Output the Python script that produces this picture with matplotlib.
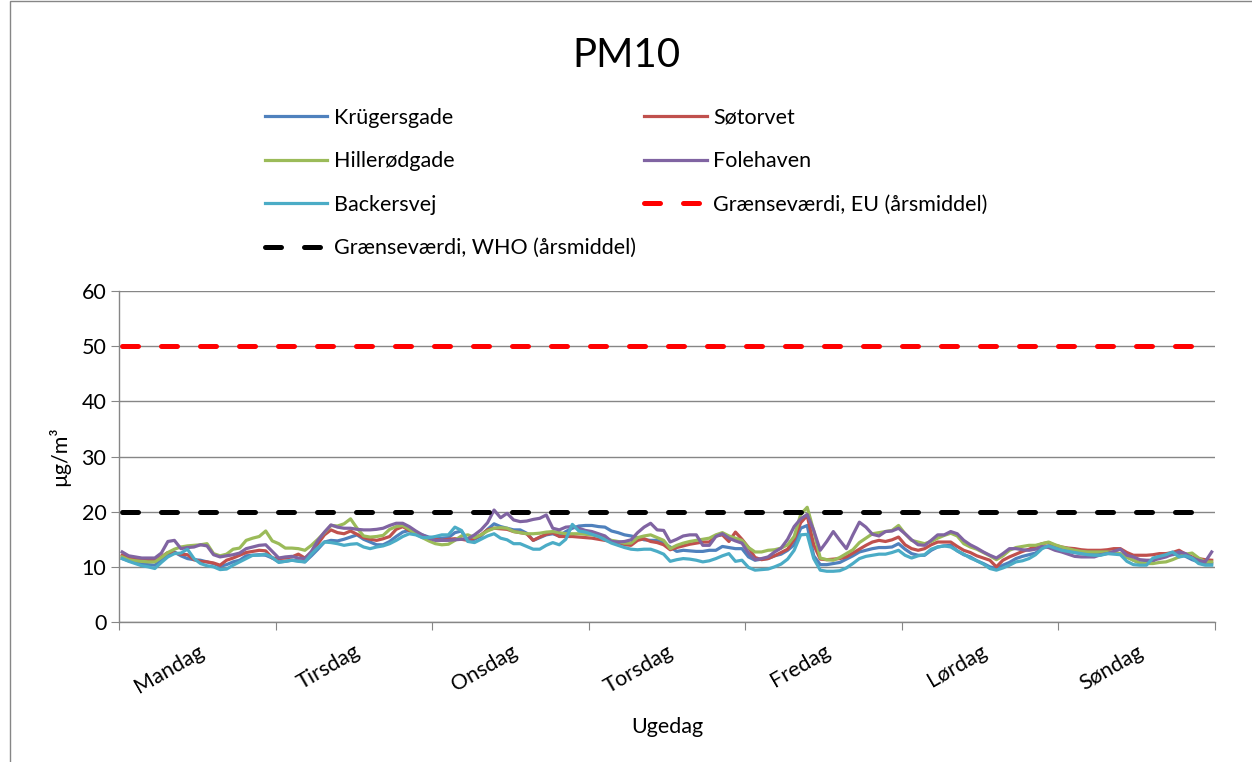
import numpy as np
import matplotlib
matplotlib.use('Agg')
import matplotlib.pyplot as plt
from matplotlib.patches import Rectangle

plt.rcParams['font.family'] = ['Lato', 'DejaVu Sans']

# Hourly mean PM10 per weekday (7 x 24 hours)
days = ['Mandag', 'Tirsdag', 'Onsdag', 'Torsdag', 'Fredag', 'Lørdag', 'Søndag']

kruegersgade = [
    11.5, 11.1, 10.8, 10.5, 10.4, 10.3, 11.2, 12.3, 12.7, 12.0, 11.5, 11.3, 11.2, 10.9, 10.6, 10.1, 10.4, 10.9, 11.2, 12.0, 12.1, 12.2, 12.1, 11.6,
    10.9, 11.0, 11.2, 11.1, 10.9, 12.0, 13.2, 14.5, 14.8, 14.7, 15.0, 15.4, 15.8, 15.0, 14.5, 14.0, 14.0, 14.6, 15.5, 16.3, 16.6, 16.2, 15.8, 15.4,
    15.2, 15.2, 15.3, 16.2, 16.5, 14.6, 15.0, 15.6, 16.8, 17.8, 17.3, 17.0, 16.7, 16.7, 16.1, 14.8, 15.3, 15.8, 16.0, 15.6, 16.4, 17.0, 17.4, 17.5,
    17.5, 17.3, 17.2, 16.5, 16.2, 15.8, 15.6, 15.3, 14.9, 14.8, 14.8, 14.3, 13.6, 12.8, 13.0, 12.9, 12.8, 12.8, 13.0, 13.0, 13.7, 13.5, 13.3, 13.3,
    11.8, 11.2, 11.4, 11.5, 12.0, 12.3, 13.0, 14.0, 17.0, 17.5, 12.0, 10.4, 10.4, 10.6, 10.8, 11.4, 12.0, 12.7, 13.0, 13.3, 13.5, 13.5, 13.6, 14.2,
    13.2, 12.4, 12.1, 12.1, 13.0, 13.6, 13.8, 13.9, 12.9, 12.2, 11.8, 11.1, 10.6, 10.0, 9.7, 10.3, 10.8, 11.5, 11.9, 12.2, 12.5, 13.4, 13.8, 13.5,
    13.1, 12.8, 12.6, 12.4, 12.4, 12.4, 12.4, 12.6, 12.5, 12.3, 11.9, 11.2, 10.7, 10.8, 11.0, 12.0, 12.1, 12.2, 12.4, 11.9, 11.3, 10.9, 10.7, 10.6,
]
soetorvet = [
    12.1, 11.7, 11.4, 11.3, 11.2, 11.2, 11.8, 12.6, 12.5, 12.3, 12.2, 11.3, 11.0, 10.9, 10.7, 10.3, 11.2, 11.6, 12.1, 12.6, 12.8, 13.0, 12.9, 11.6,
    11.5, 11.6, 11.8, 12.3, 11.6, 12.6, 14.2, 15.8, 16.7, 16.2, 16.0, 16.5, 15.9, 15.3, 15.0, 14.8, 15.1, 15.5, 16.8, 17.3, 16.6, 16.0, 15.5, 15.2,
    15.0, 14.8, 15.0, 15.1, 15.0, 14.8, 15.2, 15.8, 16.7, 17.0, 16.9, 16.8, 16.4, 16.2, 16.0, 14.8, 15.4, 15.9, 16.2, 15.5, 15.5, 15.5, 15.4, 15.3,
    15.2, 15.0, 14.8, 14.6, 14.4, 14.0, 13.9, 14.8, 15.1, 14.6, 14.4, 14.0, 13.1, 13.5, 13.8, 14.1, 14.3, 14.5, 14.5, 15.6, 15.8, 14.6, 16.3, 15.0,
    13.5, 11.7, 11.3, 11.5, 12.0, 12.6, 13.2, 15.0, 18.0, 19.3, 14.0, 11.4, 11.3, 11.4, 11.5, 11.8, 12.5, 13.2, 13.9, 14.5, 14.8, 14.6, 14.9, 15.4,
    14.0, 13.3, 13.0, 13.3, 14.0, 14.5, 14.5, 14.5, 13.7, 13.0, 12.6, 12.0, 11.6, 11.2, 10.0, 11.2, 11.8, 12.3, 12.8, 13.2, 13.7, 14.2, 14.4, 13.9,
    13.6, 13.4, 13.3, 13.1, 13.0, 13.0, 13.0, 13.1, 13.3, 13.3, 12.6, 12.1, 12.1, 12.1, 12.2, 12.4, 12.4, 12.6, 13.0, 12.3, 11.8, 11.5, 11.3, 11.2,
]
hilleroedgade = [
    11.8, 11.3, 11.1, 11.0, 10.9, 10.9, 11.7, 12.6, 13.2, 13.6, 13.8, 13.9, 14.0, 14.2, 12.4, 12.0, 12.3, 13.2, 13.4, 14.8, 15.2, 15.5, 16.5, 14.7,
    14.2, 13.4, 13.4, 13.3, 13.0, 13.9, 15.0, 16.2, 17.5, 17.4, 17.8, 18.7, 17.0, 15.6, 15.4, 15.5, 15.7, 16.8, 17.3, 17.5, 16.8, 16.0, 15.3, 14.7,
    14.2, 14.0, 14.1, 14.8, 15.6, 15.8, 15.3, 15.8, 16.5, 17.0, 17.1, 17.0, 16.4, 16.2, 16.0, 16.0, 16.1, 16.3, 16.4, 16.2, 16.0, 16.0, 16.0, 15.9,
    15.8, 15.6, 15.2, 14.8, 14.6, 14.3, 14.3, 15.3, 15.6, 15.8, 15.3, 14.8, 13.3, 13.9, 14.3, 14.6, 14.8, 15.0, 15.2, 15.8, 16.2, 15.6, 15.2, 14.8,
    13.5, 12.7, 12.7, 13.0, 13.1, 13.4, 14.0, 15.5, 19.5, 20.8, 16.5, 11.6, 11.3, 11.2, 11.7, 12.4, 13.1, 14.4, 15.2, 16.0, 16.2, 16.4, 16.6, 17.5,
    16.0, 14.8, 14.5, 14.2, 14.6, 15.2, 15.7, 16.1, 15.6, 14.2, 13.6, 13.2, 12.6, 12.0, 11.3, 12.0, 13.0, 13.5, 13.7, 13.9, 13.9, 14.2, 14.5, 14.0,
    13.6, 13.3, 13.0, 12.8, 12.7, 12.7, 12.7, 12.7, 12.6, 12.4, 11.7, 11.2, 10.7, 10.6, 10.6, 10.8, 10.9, 11.3, 11.8, 12.3, 12.5, 11.6, 10.9, 10.9,
]
folehaven = [
    12.7, 12.0, 11.8, 11.6, 11.6, 11.6, 12.5, 14.6, 14.8, 13.3, 13.5, 13.6, 14.0, 13.8, 12.2, 11.8, 12.0, 12.2, 12.5, 13.3, 13.6, 13.9, 14.0, 12.8,
    11.6, 11.8, 11.9, 11.6, 11.5, 12.8, 14.8, 16.3, 17.6, 17.2, 17.0, 17.0, 16.8, 16.7, 16.7, 16.8, 17.0, 17.5, 17.9, 17.9, 17.3, 16.5, 15.8, 15.2,
    14.8, 14.8, 14.8, 14.9, 15.0, 15.1, 15.8, 16.7, 18.0, 20.3, 18.9, 19.7, 18.5, 18.2, 18.3, 18.6, 18.8, 19.4, 17.0, 16.7, 17.2, 17.3, 17.0, 16.6,
    16.4, 16.0, 15.6, 14.6, 14.5, 14.6, 14.9, 16.2, 17.2, 17.9, 16.7, 16.6, 14.5, 15.0, 15.6, 15.8, 15.8, 13.9, 13.9, 15.5, 16.0, 15.2, 14.7, 14.3,
    12.5, 11.3, 11.5, 11.8, 12.7, 13.4, 15.0, 17.3, 18.7, 19.5, 16.6, 13.0, 14.6, 16.4, 14.8, 13.3, 15.8, 18.1, 17.2, 15.9, 15.6, 16.4, 16.5, 17.0,
    16.0, 14.9, 14.0, 13.9, 14.8, 15.8, 15.8, 16.4, 16.0, 14.8, 14.0, 13.4, 12.7, 12.1, 11.6, 12.4, 13.3, 13.3, 13.1, 13.0, 13.2, 13.7, 13.5, 13.0,
    12.7, 12.3, 11.9, 11.8, 11.8, 11.8, 12.2, 12.4, 12.8, 13.2, 12.1, 11.8, 11.3, 11.2, 11.2, 11.5, 11.8, 12.3, 12.7, 12.4, 11.6, 11.2, 10.9, 12.7,
]
backersvej = [
    11.5, 11.0, 10.6, 10.2, 10.0, 9.7, 10.8, 11.8, 12.4, 12.5, 13.2, 11.5, 10.6, 10.2, 10.0, 9.5, 9.6, 10.3, 10.9, 11.5, 12.1, 12.1, 12.3, 11.7,
    10.8, 11.0, 11.2, 11.0, 10.9, 12.3, 13.5, 14.5, 14.4, 14.2, 13.9, 14.1, 14.2, 13.6, 13.3, 13.6, 13.8, 14.2, 14.8, 15.5, 16.0, 15.8, 15.3, 15.3,
    15.5, 15.8, 15.8, 17.2, 16.6, 14.6, 14.4, 15.0, 15.6, 16.0, 15.2, 14.9, 14.2, 14.2, 13.7, 13.2, 13.2, 13.9, 14.4, 14.0, 15.0, 17.7, 16.5, 16.3,
    15.9, 15.5, 14.9, 14.3, 13.9, 13.5, 13.2, 13.1, 13.2, 13.2, 12.8, 12.3, 11.0, 11.3, 11.5, 11.4, 11.2, 10.9, 11.1, 11.5, 12.0, 12.4, 11.0, 11.2,
    9.9, 9.4, 9.5, 9.6, 10.0, 10.5, 11.4, 13.0, 15.8, 15.9, 11.5, 9.4, 9.2, 9.2, 9.3, 9.8, 10.6, 11.5, 11.9, 12.1, 12.3, 12.3, 12.6, 13.0,
    12.1, 11.6, 12.0, 12.2, 13.2, 13.6, 13.8, 13.6, 12.9, 12.3, 11.6, 11.1, 10.5, 9.7, 9.4, 9.8, 10.3, 10.9, 11.1, 11.5, 12.2, 13.3, 13.8, 13.4,
    13.0, 12.8, 12.6, 12.4, 12.2, 12.1, 12.1, 12.4, 12.3, 12.2, 11.0, 10.4, 10.3, 10.3, 11.6, 11.9, 12.2, 12.7, 11.8, 12.0, 11.6, 10.6, 10.3, 10.3,
]
eu_limit = 50
who_limit = 20

hours = np.arange(len(kruegersgade)) + 0.5

fig = plt.figure(figsize=(12.52, 7.62), dpi=100)
ax = fig.add_axes([0.095, 0.1837, 0.8754, 0.4344])

# outer chart border (only left/top edges are inside the picture)
fig.patches.append(Rectangle((10 / 1252, -0.05), 1.1, 1.05 - 1 / 762, transform=fig.transFigure,
                             fill=False, edgecolor='#868686', linewidth=1))

lw = 2.3
l1, = ax.plot(hours, kruegersgade, color='#4F81BD', lw=lw, label='Krügersgade')
l2, = ax.plot(hours, soetorvet, color='#C0504D', lw=lw, label='Søtorvet')
l3, = ax.plot(hours, hilleroedgade, color='#9BBB59', lw=lw, label='Hillerødgade')
l4, = ax.plot(hours, folehaven, color='#8064A2', lw=lw, label='Folehaven')
l5, = ax.plot(hours, backersvej, color='#4BACC6', lw=lw, label='Backersvej')
l6, = ax.plot(hours, [eu_limit] * len(hours), color='#FF0000', lw=3.6, dashes=(3.2, 4.6),
              dash_capstyle='round', label='Grænseværdi, EU (årsmiddel)')
l7, = ax.plot(hours, [who_limit] * len(hours), color='black', lw=3.6, dashes=(3.2, 4.6),
              dash_capstyle='round', label='Grænseværdi, WHO (årsmiddel)')

ax.set_xlim(0, 168)
ax.set_ylim(0, 60)
ax.set_yticks(range(0, 61, 10))
ax.yaxis.grid(True, color='#868686', lw=1)
ax.set_axisbelow(True)
for s in ['top', 'right']:
    ax.spines[s].set_visible(False)
for s in ['left', 'bottom']:
    ax.spines[s].set_color('#868686')
    ax.spines[s].set_linewidth(1)

# day boundaries as tick marks, names centred in each day
ax.set_xticks(range(0, 169, 24))
ax.set_xticklabels([])
ax.set_xticks(np.arange(12, 168, 24), minor=True)
ax.set_xticklabels(days, minor=True, rotation=30, ha='right', va='top',
                   rotation_mode='anchor', fontsize=15.5)
ax.tick_params(axis='x', which='major', length=6, color='#868686', direction='out')
ax.tick_params(axis='x', which='minor', length=0, pad=14)
ax.tick_params(axis='y', length=6, color='#868686', labelsize=15.5, pad=3)

ax.set_ylabel('µg/m³', fontsize=15.5, labelpad=8)
ax.set_xlabel('Ugedag', fontsize=15.5, labelpad=14)
fig.suptitle('PM10', fontsize=29, y=0.952)

handles = [l1, l3, l5, l7, l2, l4, l6]
fig.legend(handles=handles, labels=[h.get_label() for h in handles], ncol=2,
           loc='upper center', bbox_to_anchor=(0.5, 0.884), frameon=False,
           fontsize=15.5, handlelength=2.9, handletextpad=0.3, columnspacing=0.4,
           labelspacing=1.09)

fig.savefig('out.png', dpi=100)
